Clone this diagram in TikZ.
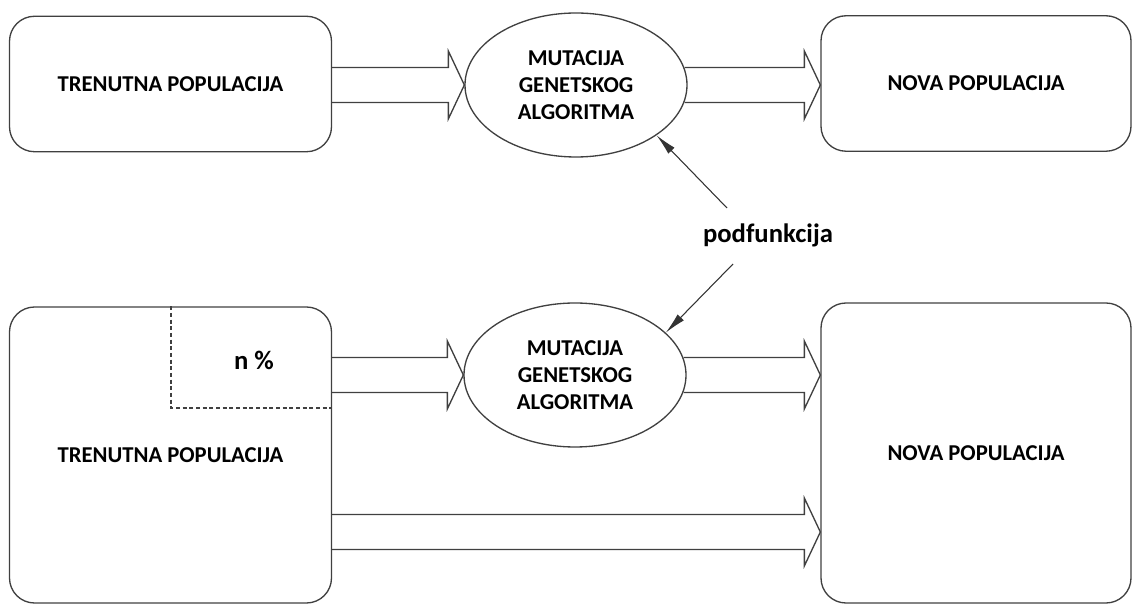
\documentclass[tikz,border=0pt]{standalone}
\usepackage{fontspec}
\setmainfont{Carlito}
\usetikzlibrary{calc,shapes.geometric,arrows.meta}
\def\blockarrow(#1)(#2){\draw[line width=1pt, draw=black!75, line join=miter] ($(#1)+(0,-17.5)$) -- ($(#2)+(-16,-17.5)$) -- ($(#2)+(-16,-34)$) -- (#2) -- ($(#2)+(-16,34)$) -- ($(#2)+(-16,17.5)$) -- ($(#1)+(0,17.5)$);}
\tikzset{
	popbox/.style={draw=black!75, line width=1pt, rounded corners=18.75pt, inner sep=0pt, font=\bfseries\fontsize{17}{20}\selectfont},
	mutell/.style={ellipse, draw=black!75, line width=1pt, inner sep=0pt, minimum width=166.5pt, minimum height=108pt, align=center, font=\bfseries\fontsize{17}{20}\selectfont},
	subarr/.style={line width=0.8pt, draw=black!80, -{Latex[length=16pt,width=6.5pt]}}
}

\begin{document}
\begin{tikzpicture}[x=0.75pt, y=-0.75pt]
		%%%%% START %%%%%
		\useasboundingbox (0, 0) rectangle (1132, 605);
		
		% upper row
		\node[popbox, minimum width=241.5pt, minimum height=101.6pt] (cur1) at (170.5, 84) {TRENUTNA POPULACIJA};
		\node[mutell] (mut1) at (576, 85) {MUTACIJA\\GENETSKOG\\ALGORITMA};
		\node[popbox, minimum width=232.5pt, minimum height=101.6pt] (new1) at (976, 83.5) {NOVA POPULACIJA};
		
		\coordinate (a1s) at (cur1.east |- mut1.west);
		\blockarrow(a1s)(mut1.west)
		\coordinate (a2s) at ($(mut1.east)+(-3, 0)$);
		\coordinate (a2e) at (new1.west |- mut1.east);
		\blockarrow(a2s)(a2e)
		
		% lower row
		\node[popbox, minimum width=241.5pt, minimum height=222pt] (cur2) at (170.5, 455) {TRENUTNA POPULACIJA};
		\node[mutell] (mut2) at (575, 375) {MUTACIJA\\GENETSKOG\\ALGORITMA};
		\node[popbox, minimum width=232.5pt, minimum height=225pt] (new2) at (976, 453) {NOVA POPULACIJA};
		
		\coordinate (dcorner) at (171, 408);
		\draw[line width=1pt, draw=black!75, dash pattern=on 3pt off 2pt] (dcorner |- cur2.north) -- (dcorner) -- (dcorner -| cur2.east);
		\node[inner sep=0pt, font=\bfseries\fontsize{20}{24}\selectfont] (npct) at (254, 360) {n \%};
		
		\coordinate (a3s) at (cur2.east |- mut2.west);
		\blockarrow(a3s)(mut2.west)
		\coordinate (a4s) at ($(mut2.east)+(-3, 0)$);
		\coordinate (a4e) at (new2.west |- mut2.east);
		\blockarrow(a4s)(a4e)
		
		\coordinate (low) at (0, 532);
		\coordinate (a5s) at (cur2.east |- low);
		\coordinate (a5e) at (new2.west |- low);
		\blockarrow(a5s)(a5e)
		
		% podfunkcija
		\node[inner sep=0pt, font=\bfseries\fontsize{20}{24}\selectfont] (pf) at (768, 235) {podfunkcija};
		\coordinate (pftop) at (727, 208);
		\coordinate (pfbot) at (733, 264);
		\draw[subarr] (pftop) -- (mut1.-32);
		\draw[subarr] (pfbot) -- (mut2.25);
		%%%%% END %%%%%
	\end{tikzpicture}
\end{document}
